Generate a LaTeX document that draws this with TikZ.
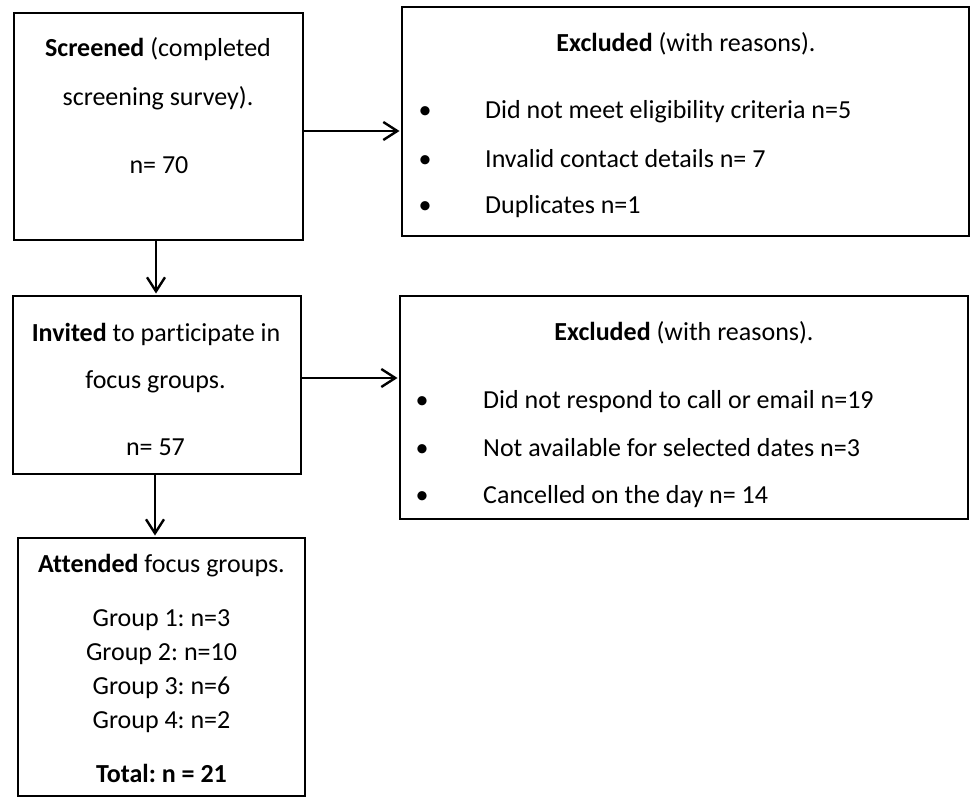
\documentclass[tikz,border=0pt]{standalone}
\usepackage{fontspec}
\setmainfont{Carlito}[Ligatures={NoCommon}]
\usetikzlibrary{arrows.meta}
\frenchspacing
\begin{document}
\begin{tikzpicture}[x=1pt,y=-1pt,
  box/.style={draw, line width=2.6pt, inner sep=0pt, fill=white},
  txt/.style={inner sep=0pt, font=\fontsize{26}{30}\selectfont},
  arr/.style={line width=2.4pt, shorten >=1.2pt,
    -{Straight Barb[length=14pt,width=18pt,line width=2.4pt]}}]
\useasboundingbox[fill=white] (0,0) rectangle (971,797);
% boxes
\node[box, minimum width=289pt, minimum height=227pt] (scr) at (158.5,126.5) {};
\node[box, minimum width=288pt, minimum height=178pt] (inv) at (157,385) {};
\node[box, minimum width=287pt, minimum height=258pt] (att) at (161.5,667) {};
\node[box, minimum width=567pt, minimum height=229pt] (exa) at (685.5,121.5) {};
\node[box, minimum width=568pt, minimum height=223pt] (exb) at (684,407.5) {};
% box 1 text
\node[txt, anchor=base] (s1) at (158,57) {\textbf{Screened} (completed};
\node[txt, anchor=base] (s2) at (158,106) {screening survey).};
\node[txt, anchor=base] (s3) at (159,173) {n= 70};
% box 2 text
\node[txt, anchor=base] (i1) at (156,341) {\textbf{Invited} to participate in};
\node[txt, anchor=base] (i2) at (155.5,388) {focus groups.};
\node[txt, anchor=base] (i3) at (155.5,455) {n= 57};
% box 3 text
\node[txt, anchor=base] (a1) at (161.5,572) {\textbf{Attended} focus groups.};
\node[txt, anchor=base] (a2) at (161.5,626) {Group 1: n=3};
\node[txt, anchor=base] (a3) at (161.5,660) {Group 2: n=10};
\node[txt, anchor=base] (a4) at (161.5,694) {Group 3: n=6};
\node[txt, anchor=base] (a5) at (161.5,728) {Group 4: n=2};
\node[txt, anchor=base] (a6) at (161.5,782) {\textbf{Total: n = 21}};
% excluded 1
\node[txt, anchor=base] (e1t) at (686,52) {\textbf{Excluded} (with reasons).};
\node[txt, anchor=base] (e1b1) at (425,118) {•};
\node[txt, anchor=base] (e1b2) at (425,167) {•};
\node[txt, anchor=base] (e1b3) at (425,213) {•};
\node[txt, anchor=base west] (e1l1) at (485,118) {Did not meet eligibility criteria n=5};
\node[txt, anchor=base west] (e1l2) at (485,167) {Invalid contact details n= 7};
\node[txt, anchor=base west] (e1l3) at (485,213) {Duplicates n=1};
% excluded 2
\node[txt, anchor=base] (e2t) at (684,340) {\textbf{Excluded} (with reasons).};
\node[txt, anchor=base] (e2b1) at (422,408) {•};
\node[txt, anchor=base] (e2b2) at (422,456) {•};
\node[txt, anchor=base] (e2b3) at (422,503) {•};
\node[txt, anchor=base west] (e2l1) at (483,408) {Did not respond to call or email n=19};
\node[txt, anchor=base west] (e2l2) at (483,456) {Not available for selected dates n=3};
\node[txt, anchor=base west] (e2l3) at (483,503) {Cancelled on the day n= 14};
% connectors
\draw[arr] (scr.east |- 0,131) -- (exa.west |- 0,131);
\draw[arr] (inv.east |- 0,378) -- (exb.west |- 0,378);
\draw[arr] (scr.south -| 156,0) -- (inv.north -| 156,0);
\draw[arr] (inv.south -| 155,0) -- (att.north -| 155,0);
\end{tikzpicture}
\end{document}
